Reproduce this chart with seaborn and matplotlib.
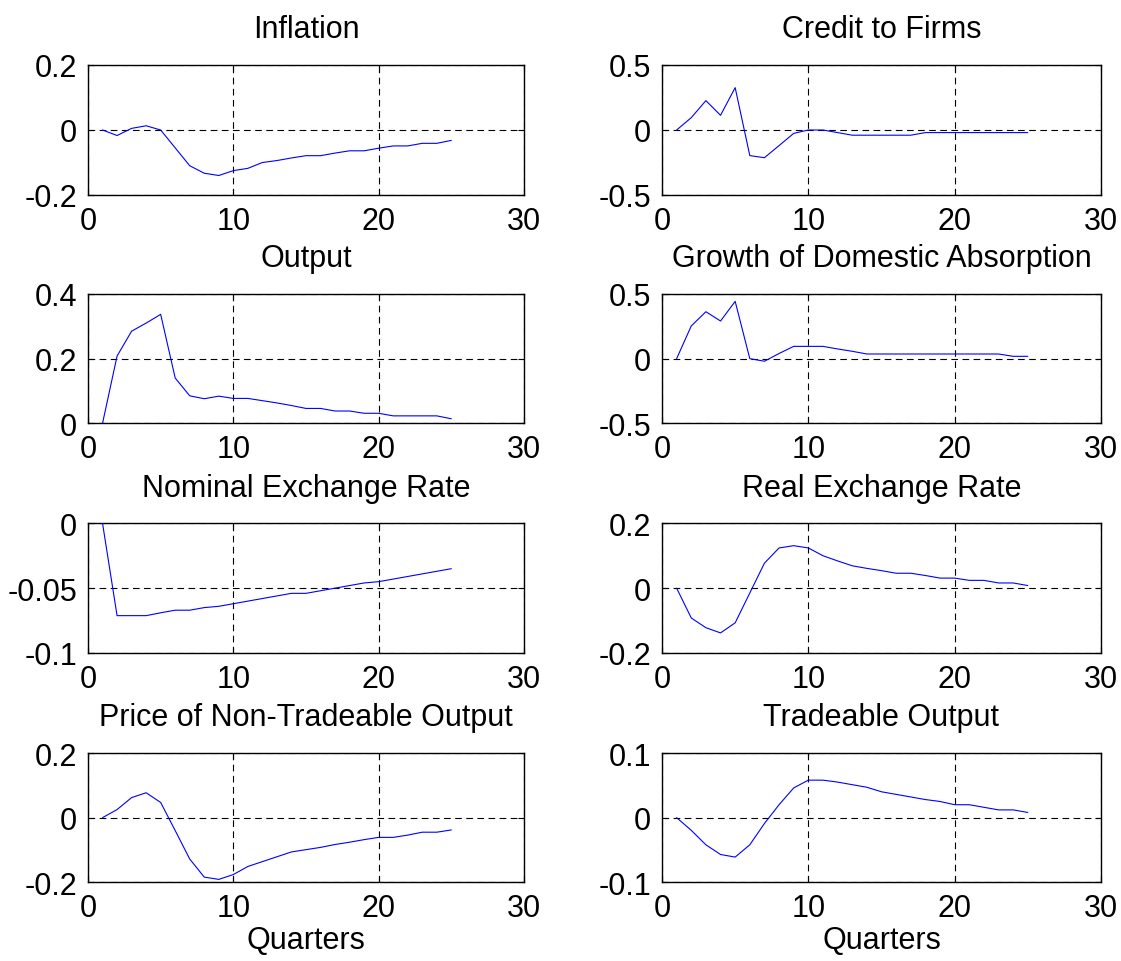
import matplotlib
matplotlib.use("Agg")
import matplotlib.pyplot as plt
from matplotlib.ticker import FuncFormatter
import seaborn as sns
import numpy as np

quarters = list(range(1, 26))

titles = ["Inflation", "Credit to Firms", "Output", "Growth of Domestic Absorption",
          "Nominal Exchange Rate", "Real Exchange Rate",
          "Price of Non-Tradeable Output", "Tradeable Output"]

inflation = [0.0, -0.017, 0.005, 0.013, 0.0, -0.055, -0.11, -0.133, -0.14, -0.125,
             -0.118, -0.10, -0.094, -0.086, -0.079, -0.079, -0.071, -0.064, -0.064, -0.056,
             -0.049, -0.049, -0.041, -0.041, -0.032]
credit_to_firms = [0.0, 0.095, 0.226, 0.113, 0.326, -0.197, -0.213, -0.12, -0.026, 0.0,
                   0.0, -0.02, -0.04, -0.04, -0.04, -0.04, -0.04, -0.02, -0.02, -0.02,
                   -0.02, -0.02, -0.02, -0.02, -0.02]
output = [0.0, 0.208, 0.285, 0.31, 0.337, 0.14, 0.085, 0.076, 0.084, 0.077,
          0.077, 0.07, 0.063, 0.055, 0.046, 0.046, 0.038, 0.038, 0.031, 0.031,
          0.023, 0.023, 0.023, 0.023, 0.014]
domestic_absorption = [0.0, 0.253, 0.363, 0.291, 0.443, 0.0, -0.02, 0.04, 0.095, 0.095,
                       0.095, 0.075, 0.057, 0.036, 0.036, 0.036, 0.036, 0.036, 0.036, 0.036,
                       0.036, 0.036, 0.036, 0.018, 0.018]
nominal_exchange = [0.0, -0.0712, -0.0712, -0.0712, -0.069, -0.067, -0.067, -0.065, -0.064, -0.062,
                    -0.060, -0.058, -0.056, -0.054, -0.054, -0.052, -0.050, -0.048, -0.046, -0.045,
                    -0.043, -0.041, -0.039, -0.037, -0.035]
real_exchange = [0.0, -0.092, -0.122, -0.138, -0.107, -0.015, 0.077, 0.124, 0.131, 0.124,
                 0.10, 0.084, 0.069, 0.061, 0.054, 0.046, 0.046, 0.039, 0.031, 0.031,
                 0.024, 0.024, 0.016, 0.016, 0.008]
nontradeable_price = [0.0, 0.025, 0.062, 0.077, 0.047, -0.04, -0.128, -0.184, -0.191, -0.176,
                      -0.151, -0.136, -0.121, -0.106, -0.099, -0.092, -0.083, -0.076, -0.068, -0.061,
                      -0.061, -0.054, -0.045, -0.045, -0.038]
tradeable_output = [0.0, -0.0196, -0.042, -0.057, -0.061, -0.042, -0.009, 0.02, 0.046, 0.058,
                    0.058, 0.055, 0.051, 0.047, 0.040, 0.036, 0.032, 0.028, 0.025, 0.02,
                    0.02, 0.016, 0.012, 0.012, 0.008]

series = [inflation, credit_to_firms, output, domestic_absorption,
          nominal_exchange, real_exchange, nontradeable_price, tradeable_output]

yticks = [[-0.2, 0, 0.2], [-0.5, 0, 0.5], [0, 0.2, 0.4], [-0.5, 0, 0.5],
          [-0.1, -0.05, 0], [-0.2, 0, 0.2], [-0.2, 0, 0.2], [-0.1, 0, 0.1]]
xticks = [0, 10, 20, 30]

sns.set_style("white")
plt.rcParams['font.family'] = ['Liberation Sans', 'DejaVu Sans']
plt.rcParams['axes.unicode_minus'] = False
plt.rcParams['text.color'] = 'black'
plt.rcParams['axes.labelcolor'] = 'black'
plt.rcParams['axes.titlecolor'] = 'black'

fig = plt.figure(figsize=(11.21, 9.62), dpi=100)

W, H = 1121.0, 962.0
cols = [(88, 524), (662, 1101)]
rows = [(66, 196), (295, 424.3), (524.3, 654), (754, 883.3)]

fmt = FuncFormatter(lambda v, p: ("%g" % v))
FS = 22

for i, (ttl, ys) in enumerate(zip(titles, series)):
    r, c = divmod(i, 2)
    x0, x1 = cols[c]
    t, b = rows[r]
    ax = fig.add_axes([x0 / W, 1 - b / H, (x1 - x0) / W, (b - t) / H])
    sns.lineplot(x=quarters, y=ys, ax=ax, color=(0, 0, 1), linewidth=0.8)
    ax.set_xlim(0, 30)
    ax.set_ylim(yticks[i][0], yticks[i][-1])
    ax.set_xticks(xticks)
    ax.set_yticks(yticks[i])
    ax.yaxis.set_major_formatter(fmt)
    ax.xaxis.set_major_formatter(fmt)
    ax.grid(True, color='black', linestyle=(0, (6, 4)), linewidth=0.8)
    ax.tick_params(direction='in', length=4, width=0.8, labelsize=FS, pad=8,
                   top=True, right=True, bottom=True, left=True,
                   colors='black', labelcolor='black')
    for s in ax.spines.values():
        s.set_color('black')
        s.set_linewidth(1.0)
    ax.set_title(ttl, fontsize=FS, pad=20, color='black')
    if r == 3:
        ax.set_xlabel("Quarters", fontsize=FS, labelpad=1, color='black')

fig.savefig("out.png", dpi=100, facecolor='white')
